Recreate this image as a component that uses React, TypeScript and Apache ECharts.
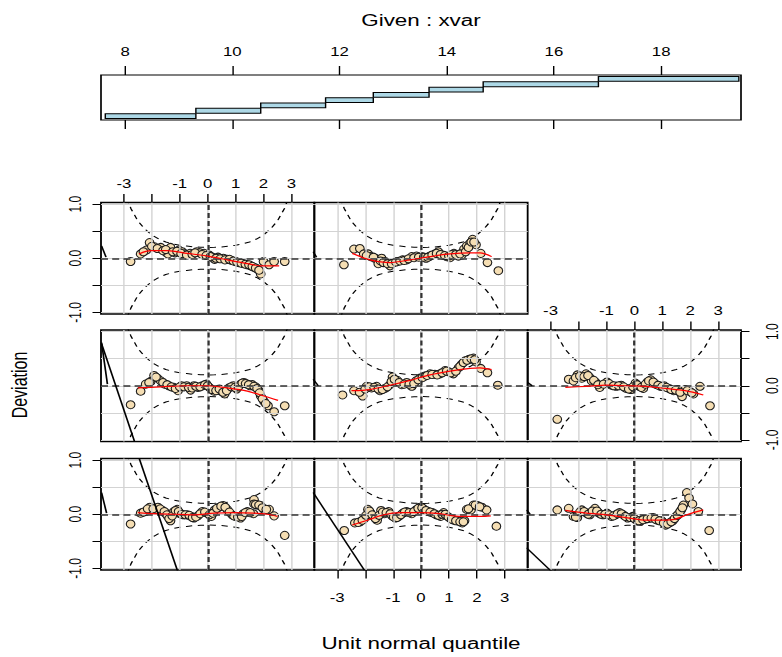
import React, { useEffect, useRef } from 'react';
import * as echarts from 'echarts';

// The reference picture is stretched horizontally; we draw at 1/S width and stretch with CSS.
const S = 1.4;
const W = 782;
const H = 657;
const px = (v: number) => v / S;
const FONT = "'Liberation Sans', Arial, Helvetica, sans-serif";

// ---------- Given panel (conditioning intervals of xvar) ----------
const givenStart = [7.63, 9.32, 10.53, 11.74, 12.63, 13.67, 14.68, 16.83];
const givenEnd = [9.32, 10.53, 11.74, 12.63, 13.67, 14.68, 16.83, 19.45];
const givenTicks = [8, 10, 12, 14, 16, 18];

// ---------- Panel axes ----------
const zTicks = [-3, -2, -1, 0, 1, 2, 3];
const zLabels = [-3, -1, 0, 1, 2, 3];
const devTicks = [-1, -0.5, 0, 0.5, 1];
const devLabels = [-1, 0, 1];

// ---------- 95% band ----------
const ciZ = [-3, -2.75, -2.5, -2.25, -2, -1.75, -1.5, -1.25, -1, -0.75, -0.5, -0.25, 0,
  0.25, 0.5, 0.75, 1, 1.25, 1.5, 1.75, 2, 2.25, 2.5, 2.75, 3];
const ciUpper = [1.25, 0.92, 0.69, 0.54, 0.43, 0.355, 0.3, 0.265, 0.24, 0.225, 0.21, 0.203, 0.2,
  0.203, 0.21, 0.225, 0.24, 0.265, 0.3, 0.355, 0.43, 0.54, 0.69, 0.92, 1.25];
const ciLower = [-1.25, -0.92, -0.69, -0.54, -0.43, -0.355, -0.3, -0.265, -0.24, -0.225, -0.21, -0.203, -0.2,
  -0.203, -0.21, -0.225, -0.24, -0.265, -0.3, -0.355, -0.43, -0.54, -0.69, -0.92, -1.25];

// ---------- Worm points per panel: [unit normal quantile, deviation] ----------
const p1Points = [[-2.76,-0.18],[-2.4,0.02],[-2.22,0.05],[-2.07,0.13],[-1.86,0.09],[-1.78,0.13],[-1.62,0.07],[-1.51,0.02],[-1.42,-0.04],[-1.33,-0.12],[-1.21,0.05],[-1.09,0.09],[-0.99,0.01],[-0.87,-0.01],[-0.73,-0.01],[-0.59,-0.04],[-0.49,-0.07],[-0.35,-0.03],[-0.19,0.05],[-0.01,0.02],[0.13,-0.04],[0.25,0.08],[0.41,0.13],[0.56,0.16],[0.7,0.09],[0.88,-0.01],[1.0,-0.04],[1.18,-0.07],[1.28,0.01],[1.42,0.05],[1.64,0.01],[1.66,0.27],[1.66,0.19],[1.78,0.17],[1.9,0.16],[2.02,0.09],[2.2,0.09],[2.38,-0.03],[2.76,-0.39],
  [-2.3,0.04],[-2.15,0.1],[-1.95,0.1],[-1.7,0.1],[-1.55,0.05],[-1.46,-0.01],[-1.38,-0.08],[-1.27,-0.03],[-1.15,0.07],[-1.04,0.05],[-0.93,0.0],[-0.8,-0.01],[-0.66,-0.02],[-0.54,-0.06],[-0.42,-0.05],[-0.27,0.01],[-0.1,0.04],[0.06,-0.01],[0.19,0.02],[0.33,0.11],[0.48,0.15],[0.63,0.13],[0.78,0.04],[0.94,-0.03],[1.08,-0.05],[1.22,-0.04],[1.35,0.03],[1.52,0.03],[1.72,0.18],[1.84,0.17],[1.96,0.12],[2.1,0.09]];
const p2Points = [[-2.75,-0.3],[-2.37,-0.16],[-2.18,-0.14],[-2.04,-0.09],[-1.9,0.09],[-1.81,0.03],[-1.69,-0.04],[-1.57,-0.11],[-1.43,0.07],[-1.31,0.01],[-1.16,0.05],[-1.04,-0.03],[-0.92,-0.07],[-0.8,-0.04],[-0.65,0.02],[-0.51,0.05],[-0.33,0.01],[-0.18,0.08],[-0.04,0.13],[0.11,0.09],[0.26,0.05],[0.41,0.03],[0.55,-0.01],[0.7,-0.04],[0.81,0.03],[0.93,-0.03],[1.03,-0.07],[1.17,-0.11],[1.32,-0.12],[1.48,-0.16],[1.56,-0.12],[1.64,0.09],[1.79,0.08],[1.88,0.17],[2.03,0.16],[2.18,0.13],[2.35,0.08],[2.7,-0.22],
  [-2.25,-0.15],[-2.1,-0.11],[-1.97,-0.02],[-1.85,0.06],[-1.75,-0.01],[-1.63,-0.08],[-1.5,-0.02],[-1.37,0.04],[-1.24,0.03],[-1.1,0.01],[-0.98,-0.05],[-0.86,-0.06],[-0.72,-0.01],[-0.58,0.04],[-0.42,0.03],[-0.25,0.05],[-0.1,0.11],[0.04,0.12],[0.18,0.07],[0.33,0.04],[0.48,0.01],[0.62,-0.02],[0.76,0.0],[0.87,0.0],[0.98,-0.05],[1.1,-0.09],[1.25,-0.12],[1.4,-0.14],[1.52,-0.14],[1.7,0.1],[1.95,0.17],[2.1,0.14]];
const p3Points = [[-2.76,0.08],[-2.35,0.11],[-2.18,-0.04],[-2.04,-0.06],[-1.88,0.08],[-1.71,0.02],[-1.59,-0.01],[-1.41,0.11],[-1.26,0.02],[-1.12,-0.01],[-0.98,0.02],[-0.82,-0.04],[-0.67,-0.01],[-0.53,0.03],[-0.39,-0.01],[-0.24,-0.07],[-0.06,-0.04],[0.08,-0.11],[0.24,-0.12],[0.39,-0.09],[0.55,-0.07],[0.67,-0.06],[0.82,-0.11],[0.98,-0.12],[1.12,-0.2],[1.26,-0.16],[1.38,-0.12],[1.49,-0.04],[1.59,0.01],[1.68,0.08],[1.76,0.17],[1.88,0.4],[1.96,0.3],[2.08,0.19],[2.29,0.05],[2.68,-0.3],
  [-2.1,-0.05],[-1.95,0.04],[-1.8,0.05],[-1.65,0.0],[-1.5,0.06],[-1.34,0.06],[-1.19,0.0],[-1.05,0.0],[-0.9,-0.01],[-0.75,-0.03],[-0.6,0.01],[-0.46,0.01],[-0.32,-0.04],[-0.15,-0.06],[0.0,-0.08],[0.16,-0.12],[0.31,-0.1],[0.47,-0.08],[0.61,-0.07],[0.75,-0.09],[0.9,-0.12],[1.05,-0.16],[1.19,-0.18],[1.32,-0.14],[1.44,-0.08],[1.54,-0.02],[1.64,0.05],[1.72,0.12]];
const p4Points = [[-2.76,-0.35],[-2.4,-0.1],[-2.22,0.03],[-2.04,0.08],[-1.92,0.19],[-1.8,0.14],[-1.68,0.09],[-1.54,0.03],[-1.39,0.0],[-1.21,-0.03],[-1.06,-0.09],[-0.94,0.0],[-0.75,0.0],[-0.61,-0.08],[-0.49,0.0],[-0.35,-0.03],[-0.19,0.0],[-0.04,0.03],[0.08,-0.04],[0.23,-0.1],[0.35,-0.08],[0.49,-0.1],[0.61,-0.15],[0.76,-0.04],[0.92,0.0],[1.04,-0.06],[1.18,0.03],[1.3,0.06],[1.42,0.03],[1.52,0.0],[1.6,0.02],[1.72,-0.02],[1.82,-0.08],[1.9,-0.19],[2.02,-0.29],[2.16,-0.37],[2.38,-0.48],[2.76,-0.37],
  [-2.1,0.06],[-1.85,0.16],[-1.6,0.06],[-1.45,0.02],[-1.3,-0.02],[-1.15,-0.05],[-1.0,-0.02],[-0.85,-0.02],[-0.68,-0.03],[-0.55,-0.04],[-0.42,-0.01],[-0.27,-0.02],[-0.1,0.02],[0.0,0.0],[0.15,-0.07],[0.3,-0.09],[0.42,-0.06],[0.55,-0.12],[0.68,-0.09],[0.84,-0.02],[0.98,-0.03],[1.1,-0.02],[1.24,0.05],[1.36,0.04],[1.47,0.02],[1.66,-0.01],[1.77,-0.05],[1.86,-0.13],[1.96,-0.24],[2.08,-0.33]];
const p5Points = [[-2.81,-0.17],[-2.4,-0.09],[-2.09,-0.19],[-1.95,-0.01],[-1.77,-0.04],[-1.59,-0.01],[-1.47,-0.09],[-1.29,-0.05],[-1.11,0.02],[-1.02,0.16],[-0.85,0.1],[-0.69,0.02],[-0.51,0.06],[-0.33,-0.01],[-0.18,0.09],[-0.04,0.14],[0.14,0.18],[0.32,0.22],[0.5,0.21],[0.68,0.22],[0.86,0.28],[0.98,0.26],[1.16,0.22],[1.34,0.33],[1.46,0.4],[1.58,0.46],[1.73,0.49],[1.88,0.51],[1.97,0.44],[2.14,0.32],[2.38,0.24],[2.75,0.01],
  [-2.2,-0.12],[-2.0,-0.06],[-1.85,-0.02],[-1.68,-0.03],[-1.53,-0.06],[-1.38,-0.07],[-1.2,-0.02],[-1.06,0.08],[-0.95,0.12],[-0.78,0.06],[-0.6,0.03],[-0.42,0.03],[-0.25,0.04],[-0.1,0.11],[0.05,0.15],[0.22,0.19],[0.4,0.21],[0.58,0.2],[0.76,0.24],[0.92,0.27],[1.07,0.24],[1.25,0.27],[1.4,0.36],[1.52,0.43],[1.65,0.47],[1.8,0.5],[1.92,0.48]];
const p6Points = [[-2.76,-0.62],[-2.35,0.12],[-2.18,0.09],[-2.04,0.2],[-1.88,0.14],[-1.73,0.22],[-1.59,0.15],[-1.53,0.09],[-1.38,0.06],[-1.24,-0.03],[-0.98,0.07],[-0.82,0.01],[-0.65,-0.01],[-0.47,0.01],[-0.29,-0.05],[-0.12,-0.07],[0.04,0.05],[0.18,-0.01],[0.32,-0.05],[0.47,0.07],[0.59,0.11],[0.76,0.03],[0.94,-0.01],[1.06,0.0],[1.24,-0.05],[1.41,-0.09],[1.56,-0.07],[1.71,-0.2],[1.82,-0.07],[2.0,-0.11],[2.12,-0.15],[2.35,-0.01],[2.71,-0.37],
  [-2.1,0.15],[-1.95,0.18],[-1.8,0.17],[-1.66,0.19],[-1.45,0.1],[-1.3,0.02],[-1.1,0.03],[-0.9,0.04],[-0.74,0.0],[-0.56,0.0],[-0.38,-0.02],[-0.2,-0.06],[-0.05,-0.02],[0.1,0.02],[0.25,-0.03],[0.4,0.03],[0.52,0.09],[0.68,0.07],[0.85,0.01],[1.0,-0.01],[1.15,-0.03],[1.32,-0.07],[1.48,-0.08],[1.64,-0.12],[1.9,-0.09],[2.06,-0.13]];
const p7Points = [[-2.76,-0.06],[-2.4,0.08],[-2.2,0.15],[-2.08,0.29],[-1.9,0.21],[-1.68,0.2],[-1.47,0.1],[-1.42,0.08],[-1.33,0.2],[-1.17,0.1],[-1.03,0.15],[-0.91,0.12],[-0.82,0.08],[-0.63,0.09],[-0.39,0.12],[-0.27,0.1],[-0.13,0.09],[0.05,0.06],[0.17,0.02],[0.25,-0.02],[0.37,0.02],[0.56,0.0],[0.7,-0.02],[0.85,-0.04],[1.0,-0.06],[1.12,-0.08],[1.28,-0.1],[1.42,-0.12],[1.54,-0.14],[1.66,-0.17],[1.78,-0.2],[1.9,-0.29],[2.0,-0.06],[2.2,-0.12],[2.38,-0.06],[2.76,-0.06],
  [-2.3,0.12],[-2.0,0.22],[-1.8,0.18],[-1.6,0.14],[-1.5,0.16],[-1.25,0.12],[-1.1,0.13],[-0.95,0.09],[-0.75,0.06],[-0.55,0.07],[-0.45,0.1],[-0.2,0.07],[-0.05,0.05],[0.1,0.03],[0.3,0.0],[0.45,-0.01],[0.62,-0.03],[0.78,-0.02],[0.92,-0.05],[1.05,-0.07],[1.2,-0.09],[1.35,-0.11],[1.48,-0.12],[1.6,-0.15],[1.72,-0.18],[1.84,-0.22]];
const p8Points = [[-2.76,-0.12],[-2.4,0.17],[-2.19,0.18],[-2.05,0.08],[-1.89,0.08],[-1.8,0.03],[-1.65,0.0],[-1.53,-0.1],[-1.41,0.0],[-1.29,-0.06],[-1.11,-0.14],[-0.99,-0.08],[-0.85,-0.06],[-0.66,-0.03],[-0.51,-0.03],[-0.33,0.03],[-0.16,0.04],[0.02,0.03],[0.18,0.0],[0.32,0.04],[0.5,0.08],[0.62,0.12],[0.78,0.06],[0.92,0.03],[1.04,0.01],[1.18,0.09],[1.34,0.04],[1.46,0.06],[1.54,0.17],[1.64,0.23],[1.76,0.28],[1.85,0.35],[1.97,0.25],[2.14,0.09],[2.38,-0.08],[2.77,-0.23],
  [-1.95,0.05],[-1.7,0.02],[-1.45,-0.05],[-1.35,-0.08],[-1.2,-0.1],[-1.05,-0.1],[-0.9,-0.07],[-0.75,-0.05],[-0.6,-0.04],[-0.45,-0.01],[-0.25,0.01],[-0.08,0.02],[0.1,0.02],[0.25,0.02],[0.4,0.06],[0.56,0.09],[0.7,0.07],[0.85,0.05],[1.0,0.04],[1.1,0.07],[1.25,0.07],[1.4,0.08],[1.6,0.12],[1.7,0.2],[1.8,0.3],[1.9,0.3]];

// ---------- Fitted (red) curves per panel ----------
const p1Fit = [[-2.5,0.03],[-1.92,0.01],[-1.21,0],[-0.49,-0.01],[0.23,0.02],[0.94,0.03],[1.66,0.02],[2.14,0],[2.5,-0.04]];
const p2Fit = [[-2.46,-0.2],[-1.92,-0.11],[-1.33,-0.01],[-0.74,0.03],[0,0.03],[0.67,0.01],[1.15,-0.03],[1.62,-0.04],[2.15,-0.04],[2.5,-0.03]];
const p3Fit = [[-2.47,0.07],[-1.71,0.02],[-1.0,-0.01],[-0.18,-0.07],[0.41,-0.11],[1.0,-0.11],[1.47,-0.09],[1.88,-0.01],[2.47,0.08]];
const p4Fit = [[-2.5,-0.04],[-1.68,-0.02],[-0.73,0],[0,0],[0.7,-0.04],[1.42,-0.1],[2.02,-0.19],[2.52,-0.27]];
const p5Fit = [[-2.49,-0.09],[-1.83,-0.07],[-1.11,0.01],[-0.39,0.1],[0.32,0.2],[1.04,0.27],[1.76,0.32],[2.11,0.33],[2.53,0.3]];
const p6Fit = [[-2.47,-0.03],[-1.71,-0.01],[-1.0,0.01],[-0.29,0],[0.41,-0.01],[1.12,-0.05],[1.82,-0.09],[2.47,-0.17]];
const p7Fit = [[-2.46,0.08],[-2.04,0.14],[-1.45,0.14],[-0.73,0.09],[0,0.04],[0.7,-0.03],[1.42,-0.1],[1.9,-0.14],[2.56,-0.14]];
const p8Fit = [[-2.46,0.09],[-1.82,-0.03],[-1.11,-0.08],[-0.39,-0.03],[0.32,0.03],[1.04,0.08],[1.76,0.1],[2.12,0.1],[2.53,0.03]];

// ---------- Straight solid segments seen at the panels' left edges ----------
const p1Segs = [[[-3.8,0.4],[-3.62,0.02]], [[-2.47,1.06],[-1.07,-1.06]]];
const p2Segs = [[[-3.86,0.4],[-2.02,-1.04]]];
const p3Segs = [[[-3.86,0.08],[-3.73,0.0]], [[-3.86,-0.62],[-2.96,-1.06]]];
const p4Segs = [[[-3.8,0.8],[-3.59,0.03]], [[-3.8,0.78],[-2.6,-1.06]]];
const p5Segs = [[[-3.86,0.12],[-3.68,0.0]]];
const p6Segs = [[[-3.82,0.06],[-3.66,0.0]]];
const p7Segs = [[[-3.8,0.23],[-3.64,0.02]]];
const p8Segs = [[[-3.86,0.12],[-3.74,0.02]]];

// ---------- Layout (screen pixels of the reference) ----------
const colLeft = [101, 314.33, 527.67];
const colWidth = 213.33;
const rowTop = [202.5, 330, 458.5];
const rowHeight = 111.5;
const XLIM = 3.82;
const YLIM = 1.03;
const GIVEN = { left: 101, top: 75, width: 640, height: 45, min: 7.55, max: 19.49 };
const TICK = 8.5;

type Panel = { col: number; row: number; points: number[][]; fit: number[][]; segs: number[][][]; xAxisPos?: 'top' | 'bottom'; yAxisPos?: 'left' | 'right' };
const panels: Panel[] = [
  { col: 0, row: 2, points: p1Points, fit: p1Fit, segs: p1Segs, yAxisPos: 'left' },
  { col: 1, row: 2, points: p2Points, fit: p2Fit, segs: p2Segs, xAxisPos: 'bottom' },
  { col: 2, row: 2, points: p3Points, fit: p3Fit, segs: p3Segs },
  { col: 0, row: 1, points: p4Points, fit: p4Fit, segs: p4Segs },
  { col: 1, row: 1, points: p5Points, fit: p5Fit, segs: p5Segs },
  { col: 2, row: 1, points: p6Points, fit: p6Fit, segs: p6Segs, xAxisPos: 'top', yAxisPos: 'right' },
  { col: 0, row: 0, points: p7Points, fit: p7Fit, segs: p7Segs, xAxisPos: 'top', yAxisPos: 'left' },
  { col: 1, row: 0, points: p8Points, fit: p8Fit, segs: p8Segs },
];

function buildOption() {
  const labelStyle = { color: '#000', fontSize: 12, fontFamily: FONT };
  const grid: any[] = [];
  const xAxis: any[] = [];
  const yAxis: any[] = [];
  const series: any[] = [];
  const hiddenAxis = (min: number, max: number) => ({ type: 'value', min, max, show: false, splitLine: { show: false } });

  // adds a grid with one x and one y axis; returns its index (same for grid, x and y)
  const addGrid = (g: any, x: any, y: any) => {
    const i = grid.length;
    grid.push({ backgroundColor: 'transparent', outerBoundsMode: 'none', containLabel: false, ...g });
    xAxis.push({ gridIndex: i, ...x });
    yAxis.push({ gridIndex: i, ...y });
    return i;
  };
  const tickLines = (i: number, data: any[]) => {
    series.push({
      type: 'line', xAxisIndex: i, yAxisIndex: i, data: [], silent: true, z: 5,
      markLine: {
        silent: true, symbol: ['none', 'none'], label: { show: false }, animation: false,
        lineStyle: { color: '#000', type: 'solid', width: 1 }, data,
      },
    });
  };

  // ----- given panel -----
  const g0 = addGrid(
    { left: px(GIVEN.left), top: GIVEN.top, width: px(GIVEN.width), height: GIVEN.height, show: true, borderColor: '#000', borderWidth: 1.2 },
    {
      type: 'value', min: GIVEN.min, max: GIVEN.max, position: 'top',
      axisLine: { show: false }, splitLine: { show: false }, axisTick: { show: false },
      axisLabel: { show: true, customValues: givenTicks, margin: 17, ...labelStyle },
    },
    hiddenAxis(0.25, 8.75),
  );
  series.push({
    type: 'custom', xAxisIndex: g0, yAxisIndex: g0, z: 3,
    data: givenStart.map((s, i) => [s, givenEnd[i], i + 1]),
    renderItem: (params: any, api: any) => {
      const a = api.coord([api.value(0), api.value(2)]);
      const b = api.coord([api.value(1), api.value(2)]);
      return {
        type: 'rect',
        shape: { x: a[0], y: a[1] - 2.4, width: b[0] - a[0], height: 4.8 },
        style: { fill: '#ADD8E6', stroke: '#000', lineWidth: 1 },
      };
    },
  });
  [GIVEN.top - 9, GIVEN.top + GIVEN.height].forEach((top) => {
    const t = addGrid(
      { left: px(GIVEN.left), top, width: px(GIVEN.width), height: 9, show: false },
      hiddenAxis(GIVEN.min, GIVEN.max), hiddenAxis(0, 1),
    );
    tickLines(t, givenTicks.map((v) => ({ xAxis: v })));
  });

  // ----- panels -----
  panels.forEach((p) => {
    const left = colLeft[p.col];
    const top = rowTop[p.row];
    const i = addGrid(
      { left: px(left), top, width: px(colWidth), height: rowHeight, show: true, borderColor: '#000', borderWidth: 1.3 },
      {
        type: 'value', min: -XLIM, max: XLIM, position: p.xAxisPos || 'bottom',
        axisLine: { show: false }, splitLine: { show: false }, axisTick: { show: false },
        axisLabel: {
          show: !!p.xAxisPos, customValues: zLabels, margin: p.xAxisPos === 'top' ? 13 : 22, ...labelStyle,
          formatter: (v: number) => String(v),
        },
      },
      {
        type: 'value', min: -YLIM, max: YLIM, position: p.yAxisPos || 'left',
        axisLine: { show: false }, splitLine: { show: false }, axisTick: { show: false },
        axisLabel: {
          show: !!p.yAxisPos, customValues: devLabels, rotate: 90,
          margin: p.yAxisPos === 'right' ? px(23) : px(17), ...labelStyle,
          formatter: (v: number) => v.toFixed(1),
        },
      },
    );
    // grid lines
    series.push({
      type: 'line', xAxisIndex: i, yAxisIndex: i, data: [], silent: true, z: 1,
      markLine: {
        silent: true, symbol: ['none', 'none'], label: { show: false }, animation: false,
        lineStyle: { color: '#D3D3D3', type: 'solid', width: 1 },
        data: [...zTicks.map((v) => ({ xAxis: v })), ...devTicks.map((v) => ({ yAxis: v }))],
      },
    });
    // zero reference lines
    series.push({
      type: 'line', xAxisIndex: i, yAxisIndex: i, data: [], silent: true, z: 2,
      markLine: {
        silent: true, symbol: ['none', 'none'], label: { show: false }, animation: false,
        lineStyle: { color: '#333', type: [5, 3], width: 1.6 },
        data: [{ xAxis: 0 }, { yAxis: 0 }],
      },
    });
    // 95% band
    [ciUpper, ciLower].forEach((arr) => {
      series.push({
        type: 'line', xAxisIndex: i, yAxisIndex: i, z: 3, silent: true, showSymbol: false, symbol: 'none',
        clip: true, lineStyle: { color: '#000', width: 1, type: [4.5, 4] },
        data: ciZ.map((z, k) => [z, arr[k]]),
      });
    });
    // points
    series.push({
      type: 'scatter', xAxisIndex: i, yAxisIndex: i, z: 4, silent: true, clip: true,
      symbol: 'circle', symbolSize: [6.2, 8],
      itemStyle: { color: '#F5DEB3', borderColor: '#1a1a1a', borderWidth: 0.9, opacity: 1 },
      data: p.points,
    });
    // fitted curve
    series.push({
      type: 'line', xAxisIndex: i, yAxisIndex: i, z: 5, silent: true, showSymbol: false, symbol: 'none',
      smooth: 0.3, clip: true, lineStyle: { color: '#FF0000', width: 1.2 },
      data: p.fit,
    });
    // straight segments
    p.segs.forEach((seg) => {
      series.push({
        type: 'line', xAxisIndex: i, yAxisIndex: i, z: 6, silent: true, showSymbol: false, symbol: 'none',
        clip: true, lineStyle: { color: '#000', width: 1.2 },
        data: seg,
      });
    });
    // tick marks
    if (p.xAxisPos) {
      const t = addGrid(
        { left: px(left), top: p.xAxisPos === 'top' ? top - TICK : top + rowHeight, width: px(colWidth), height: TICK, show: false },
        hiddenAxis(-XLIM, XLIM), hiddenAxis(0, 1),
      );
      tickLines(t, zTicks.map((v) => ({ xAxis: v })));
    }
    if (p.yAxisPos) {
      const t = addGrid(
        { left: px(p.yAxisPos === 'left' ? left - TICK : left + colWidth), top, width: px(TICK), height: rowHeight, show: false },
        hiddenAxis(0, 1), hiddenAxis(-YLIM, YLIM),
      );
      tickLines(t, devTicks.map((v) => ({ yAxis: v })));
    }
  });

  const graphic = [
    { type: 'text', x: px(421), y: 20, style: { text: 'Given : xvar', fontSize: 16, fontFamily: FONT, fill: '#000', align: 'center', verticalAlign: 'middle' } },
    { type: 'text', x: px(421), y: 643, style: { text: 'Unit normal quantile', fontSize: 16, fontFamily: FONT, fill: '#000', align: 'center', verticalAlign: 'middle' } },
    { type: 'text', x: px(19), y: 385, rotation: Math.PI / 2, style: { text: 'Deviation', fontSize: 16, fontFamily: FONT, fill: '#000', align: 'center', verticalAlign: 'middle' } },
  ];

  return {
    animation: false,
    backgroundColor: '#ffffff',
    grid, xAxis, yAxis, series, graphic,
  };
}

export default function App() {
  const ref = useRef<HTMLDivElement>(null);
  useEffect(() => {
    if (!ref.current) return;
    const chart = echarts.init(ref.current, undefined, { renderer: 'svg' });
    chart.setOption(buildOption() as any);
    return () => chart.dispose();
  }, []);
  return (
    <div
      ref={ref}
      style={{
        position: 'absolute', left: 0, top: 0, width: W / S, height: H,
        transform: `scaleX(${S})`, transformOrigin: '0 0', background: '#fff',
      }}
    />
  );
}
